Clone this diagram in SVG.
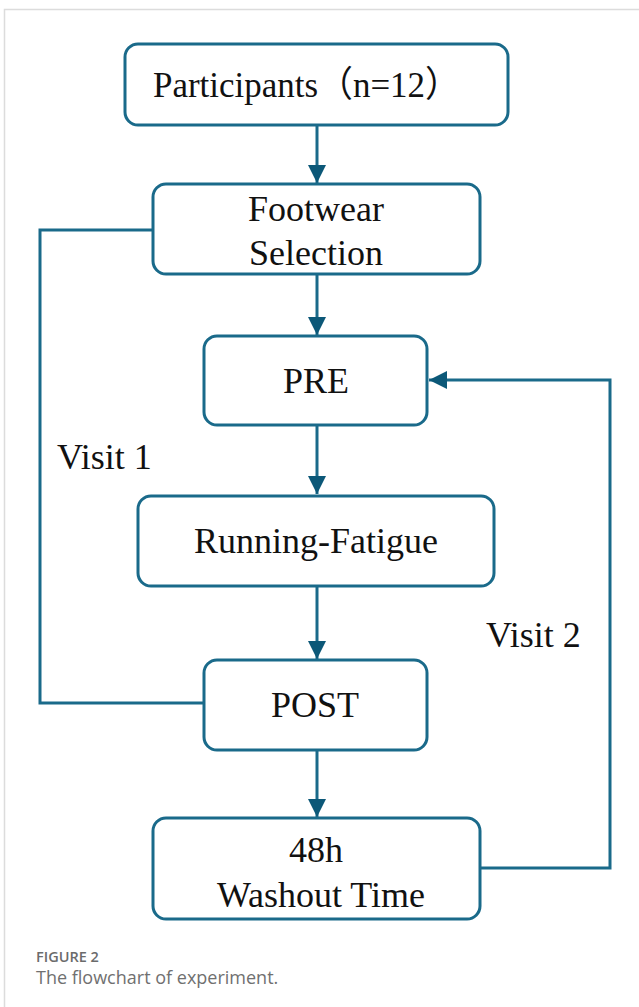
<svg xmlns="http://www.w3.org/2000/svg" width="639" height="1007" viewBox="0 0 639 1007">
<style>
.box{fill:#fff;stroke:#1a6a8a;stroke-width:3}
.ln{fill:none;stroke:#1a6a8a;stroke-width:3}
.t{font-family:"Liberation Serif","Noto Sans CJK SC",serif;font-size:36px;fill:#111}
.cap1{font-family:"Open Sans","Liberation Sans",sans-serif;font-size:14.5px;font-weight:600;fill:#6b6b6b}
.cap2{font-family:"Open Sans","Liberation Sans",sans-serif;font-size:18px;fill:#707070}
</style>
<defs>
<marker id="ah" viewBox="0 0 10 10" refX="10" refY="5" markerWidth="6" markerHeight="6" markerUnits="strokeWidth" orient="auto">
<path d="M0,0 L10,5 L0,10 Z" fill="#0c5878"/>
</marker>
</defs>
<rect width="639" height="1007" fill="#fff"/>
<path d="M4.5,1007 V9.5 H639" fill="none" stroke="#dcdcdc" stroke-width="1.5"/>
<g id="connectors">
<line class="ln" x1="317" y1="125" x2="317" y2="183" marker-end="url(#ah)"/>
<line class="ln" x1="317" y1="274" x2="317" y2="335" marker-end="url(#ah)"/>
<line class="ln" x1="317" y1="425" x2="317" y2="494" marker-end="url(#ah)"/>
<line class="ln" x1="317" y1="586" x2="317" y2="659" marker-end="url(#ah)"/>
<line class="ln" x1="317" y1="750" x2="317" y2="817" marker-end="url(#ah)"/>
<path class="ln" d="M153,230 H40 V703 H204"/>
<path class="ln" d="M480,868 H610 V380 H429" marker-end="url(#ah)"/>
</g>
<g id="participants">
<rect class="box" x="125" y="44" width="383" height="81" rx="13"/>
<text class="t" x="153" y="97" textLength="307" lengthAdjust="spacingAndGlyphs">Participants（n=12）</text>
</g>
<g id="footwear">
<rect class="box" x="153" y="184" width="327" height="90" rx="13"/>
<text class="t" x="316" y="221" text-anchor="middle">Footwear</text>
<text class="t" x="316" y="265" text-anchor="middle">Selection</text>
</g>
<g id="pre">
<rect class="box" x="204" y="336" width="223" height="89" rx="13"/>
<text class="t" x="316" y="393" text-anchor="middle">PRE</text>
</g>
<g id="running">
<rect class="box" x="138" y="496" width="356" height="90" rx="13"/>
<text class="t" x="316" y="553" text-anchor="middle">Running-Fatigue</text>
</g>
<g id="post">
<rect class="box" x="204" y="660" width="223" height="90" rx="13"/>
<text class="t" x="315" y="717" text-anchor="middle">POST</text>
</g>
<g id="washout">
<rect class="box" x="153" y="818" width="327" height="101" rx="13"/>
<text class="t" x="316" y="862" text-anchor="middle">48h</text>
<text class="t" x="321" y="907" text-anchor="middle">Washout Time</text>
</g>
<g id="labels">
<text class="t" x="57" y="469" font-size="34">Visit 1</text>
<text class="t" x="486" y="647" font-size="34">Visit 2</text>
</g>
<g id="caption">
<text class="cap1" x="36" y="962">FIGURE 2</text>
<text class="cap2" x="36" y="984">The flowchart of experiment.</text>
</g>
</svg>
